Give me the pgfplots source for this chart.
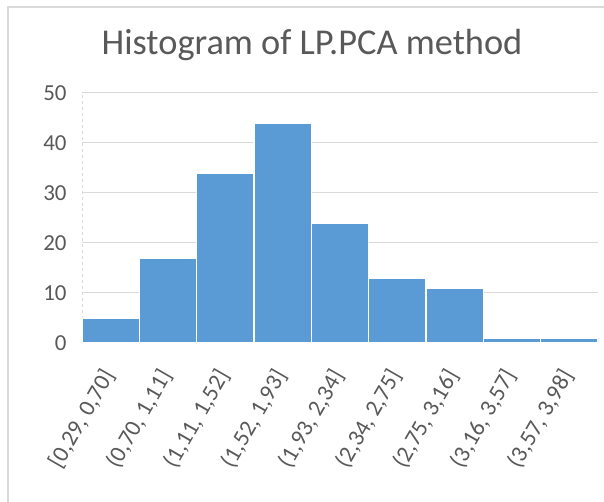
\documentclass[border=0pt]{standalone}
\usepackage{pgfplots}
\pgfplotsset{compat=1.18}
\usepackage{fontspec}
\setmainfont{Carlito}
\definecolor{barblue}{HTML}{5B9BD5}
\definecolor{tickgray}{HTML}{595959}
\definecolor{gridgray}{HTML}{D9D9D9}
\begin{document}
\begin{tikzpicture}[x=1bp,y=1bp]
\useasboundingbox (0,0) rectangle (604,502);
\fill[white] (0,0) rectangle (604,502);
\draw[gridgray, line width=1.5bp] (8,0) -- (8,495) -- (604,495);
\node[text=tickgray, font=\fontsize{36.5}{40}\selectfont] at (312,457) {Histogram of LP.PCA method};
\begin{axis}[
  at={(82bp,159bp)}, anchor=south west,
  width=516bp, height=250bp, scale only axis,
  xmin=0, xmax=9, ymin=0, ymax=50,
  axis line style={draw=none},
  major tick length=0pt,
  ytick={0,10,20,30,40,50},
  ymajorgrids, grid style={gridgray, line width=1bp},
  xtick={0.5,1.5,2.5,3.5,4.5,5.5,6.5,7.5,8.5},
  xticklabels={{[0,29, 0,70]},{(0,70, 1,11]},{(1,11, 1,52]},{(1,52, 1,93]},{(1,93, 2,34]},{(2,34, 2,75]},{(2,75, 3,16]},{(3,16, 3,57]},{(3,57, 3,98]}},
  /pgf/number format/assume math mode=true,
  xticklabel style={rotate=60, anchor=east, font=\fontsize{23.5}{25}\selectfont, text=tickgray},
  yticklabel style={font=\fontsize{23}{25}\selectfont, text=tickgray},
  xticklabel shift=26bp,
  yticklabel shift=12bp,
  ybar, bar width=1,
]
\draw[gridgray, dashed, line width=1bp] (axis cs:0,0) -- (axis cs:0,50) -- (axis cs:9,50);
\addplot[fill=barblue, draw=white, line width=1.5bp] coordinates {
  (0.5,5) (1.5,17) (2.5,34) (3.5,44) (4.5,24) (5.5,13) (6.5,11) (7.5,1) (8.5,1)
};
\end{axis}
\end{tikzpicture}
\end{document}
